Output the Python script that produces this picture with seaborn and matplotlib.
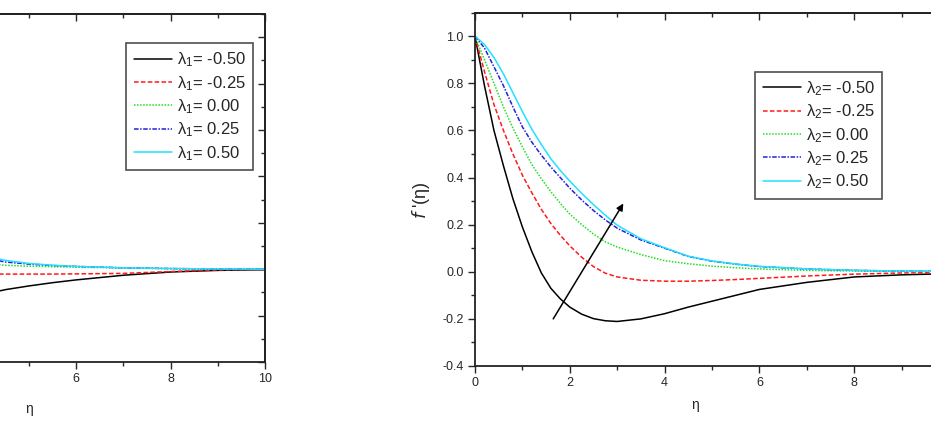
import numpy as np
import pandas as pd
import seaborn as sns
import matplotlib.pyplot as plt
from matplotlib.ticker import MultipleLocator, FuncFormatter

# eta-Stuetzstellen
eta = [0, 0.2, 0.4, 0.6, 0.8, 1.0, 1.2, 1.4, 1.6, 1.8, 2.0, 2.25, 2.5, 2.75,
       3.0, 3.5, 4.0, 4.5, 5.0, 5.5, 6.0, 7.0, 8.0, 9.0, 10.0]

lam_labels = ['-0.50', '-0.25', '0.00', '0.25', '0.50']

# linke Grafik: f'(eta) fuer verschiedene lambda_1
l1_m050 = [1.0, 0.82, 0.66, 0.52, 0.40, 0.29, 0.20, 0.12, 0.06, 0.01, -0.03, -0.07, -0.10, -0.12,
           -0.13, -0.13, -0.11, -0.088, -0.072, -0.058, -0.046, -0.026, -0.012, -0.005, -0.002]
l1_m025 = [1.0, 0.86, 0.73, 0.62, 0.52, 0.43, 0.35, 0.28, 0.22, 0.17, 0.13, 0.085, 0.05, 0.02,
           0.0, -0.015, -0.02, -0.021, -0.021, -0.021, -0.02, -0.018, -0.01, -0.003, -0.001]
l1_p000 = [1.0, 0.89, 0.79, 0.69, 0.60, 0.52, 0.45, 0.39, 0.33, 0.28, 0.24, 0.19, 0.15, 0.115,
           0.09, 0.055, 0.025, 0.017, 0.013, 0.011, 0.009, 0.005, 0.002, 0.001, 0.0]
l1_p025 = [1.0, 0.93, 0.85, 0.77, 0.69, 0.61, 0.54, 0.47, 0.41, 0.36, 0.31, 0.26, 0.21, 0.17,
           0.14, 0.09, 0.05, 0.031, 0.022, 0.016, 0.012, 0.006, 0.003, 0.001, 0.0]
l1_p050 = [1.0, 0.95, 0.89, 0.82, 0.74, 0.66, 0.59, 0.52, 0.45, 0.40, 0.35, 0.29, 0.24, 0.19,
           0.16, 0.10, 0.06, 0.038, 0.025, 0.017, 0.012, 0.006, 0.003, 0.001, 0.0]

# rechte Grafik: f'(eta) fuer verschiedene lambda_2
l2_m050 = [1.0, 0.79, 0.60, 0.45, 0.31, 0.19, 0.085, -0.005, -0.07, -0.115, -0.15, -0.18, -0.199, -0.208,
           -0.211, -0.20, -0.178, -0.15, -0.125, -0.10, -0.075, -0.045, -0.022, -0.013, -0.008]
l2_m025 = [1.0, 0.85, 0.71, 0.60, 0.50, 0.41, 0.335, 0.265, 0.205, 0.155, 0.11, 0.062, 0.022, -0.006,
           -0.022, -0.036, -0.04, -0.04, -0.037, -0.033, -0.028, -0.018, -0.01, -0.005, -0.003]
l2_p000 = [1.0, 0.90, 0.80, 0.70, 0.61, 0.53, 0.455, 0.395, 0.34, 0.29, 0.245, 0.20, 0.16, 0.127,
           0.105, 0.073, 0.047, 0.034, 0.024, 0.017, 0.012, 0.006, 0.003, 0.0015, 0.001]
l2_p025 = [1.0, 0.95, 0.87, 0.79, 0.70, 0.615, 0.55, 0.495, 0.445, 0.40, 0.355, 0.305, 0.26, 0.22,
           0.185, 0.135, 0.10, 0.065, 0.045, 0.032, 0.022, 0.012, 0.006, 0.003, 0.0015]
l2_p050 = [1.0, 0.965, 0.91, 0.84, 0.76, 0.68, 0.605, 0.54, 0.48, 0.43, 0.385, 0.333, 0.285, 0.24,
           0.198, 0.14, 0.102, 0.066, 0.046, 0.033, 0.023, 0.012, 0.006, 0.003, 0.0015]

# Pfeil in der rechten Grafik (Richtung wachsender lambda_2)
arrow_start = (1.62, -0.21)
arrow_end = (3.16, 0.30)

colors = ['black', '#ff1a1a', '#22dd22', '#2222dd', '#22e0ff']
styles = ['-', (0, (3, 1.5)), (0, (1, 1)), (0, (3, 1, 1, 1)), '-']

sns.set_style('ticks')
plt.rcParams['font.family'] = ['Liberation Sans', 'DejaVu Sans']
plt.rcParams['axes.linewidth'] = 1.3

fig = plt.figure(figsize=(9.31, 4.37), dpi=100)
ax1 = fig.add_axes([-0.2223, 0.1716, 0.5070, 0.7963])
ax2 = fig.add_axes([0.5102, 0.1625, 0.5091, 0.8085])


def draw_panel(ax, series, sub, xlab_range):
    for vals, lab, c, ls in zip(series, lam_labels, colors, styles):
        df = pd.DataFrame({'eta': eta, 'f': vals})
        sns.lineplot(data=df, x='eta', y='f', ax=ax, color=c, linestyle=ls, lw=1.1,
                     label=r'$\mathregular{\lambda_%s}$= %s' % (sub, lab))
    ax.set_xlim(0, 10)
    ax.set_ylim(-0.4, 1.1)
    ax.xaxis.set_major_locator(MultipleLocator(2))
    ax.xaxis.set_minor_locator(MultipleLocator(1))
    ax.yaxis.set_major_locator(MultipleLocator(0.2))
    ax.yaxis.set_minor_locator(MultipleLocator(0.1))
    ax.yaxis.set_major_formatter(plt.FormatStrFormatter('%.1f'))
    # nur Beschriftungen, die im Bildausschnitt liegen
    lo, hi = xlab_range
    ax.xaxis.set_major_formatter(FuncFormatter(lambda v, p: '%d' % v if lo <= v <= hi else ''))
    ax.tick_params(which='major', direction='out', length=5, width=1, labelsize=9, pad=3)
    ax.tick_params(which='minor', direction='out', length=3, width=1)
    for sp in ax.spines.values():
        sp.set_visible(True)
        sp.set_color('#222222')
    # Ticks oben und rechts nach innen
    top = ax.secondary_xaxis('top')
    top.xaxis.set_major_locator(MultipleLocator(2))
    top.xaxis.set_minor_locator(MultipleLocator(1))
    top.tick_params(which='major', direction='in', length=5, width=1, labeltop=False)
    top.tick_params(which='minor', direction='in', length=3, width=1)
    right = ax.secondary_yaxis('right')
    right.yaxis.set_major_locator(MultipleLocator(0.2))
    right.yaxis.set_minor_locator(MultipleLocator(0.1))
    right.tick_params(which='major', direction='in', length=5, width=1, labelright=False)
    right.tick_params(which='minor', direction='in', length=3, width=1)
    ax.set_xlabel('η', fontsize=10)
    ax.set_ylabel(r"$\it{f}$ '(η)", fontsize=13)


draw_panel(ax1, [l1_m050, l1_m025, l1_p000, l1_p025, l1_p050], '1', (5, 10))
draw_panel(ax2, [l2_m050, l2_m025, l2_p000, l2_p025, l2_p050], '2', (0, 9))

# linke Grafik ist links abgeschnitten: y-Achse liegt ausserhalb des Bildes
ax1.tick_params(axis='y', labelleft=False)
ax1.set_ylabel('')

ax1.xaxis.set_label_coords(0.5, -0.115)
ax2.xaxis.set_label_coords(0.464, -0.09)
ax2.yaxis.set_label_coords(-0.09, 0.47)

leg_kw = dict(loc='upper left', fontsize=12, frameon=True, fancybox=False, borderaxespad=0,
              handlelength=2.3, handletextpad=0.3, labelspacing=0.28, borderpad=0.45)
lg1 = ax1.legend(bbox_to_anchor=(0.7055, 0.9167), **leg_kw)
lg2 = ax2.legend(bbox_to_anchor=(0.591, 0.833), **leg_kw)
for lg in (lg1, lg2):
    lg.get_frame().set_edgecolor('#222222')
    lg.get_frame().set_linewidth(1.2)

ax2.annotate('', xy=arrow_end, xytext=arrow_start,
             arrowprops=dict(arrowstyle='-|>', color='black', lw=1.1, mutation_scale=10))

plt.savefig('out.png', dpi=100)
